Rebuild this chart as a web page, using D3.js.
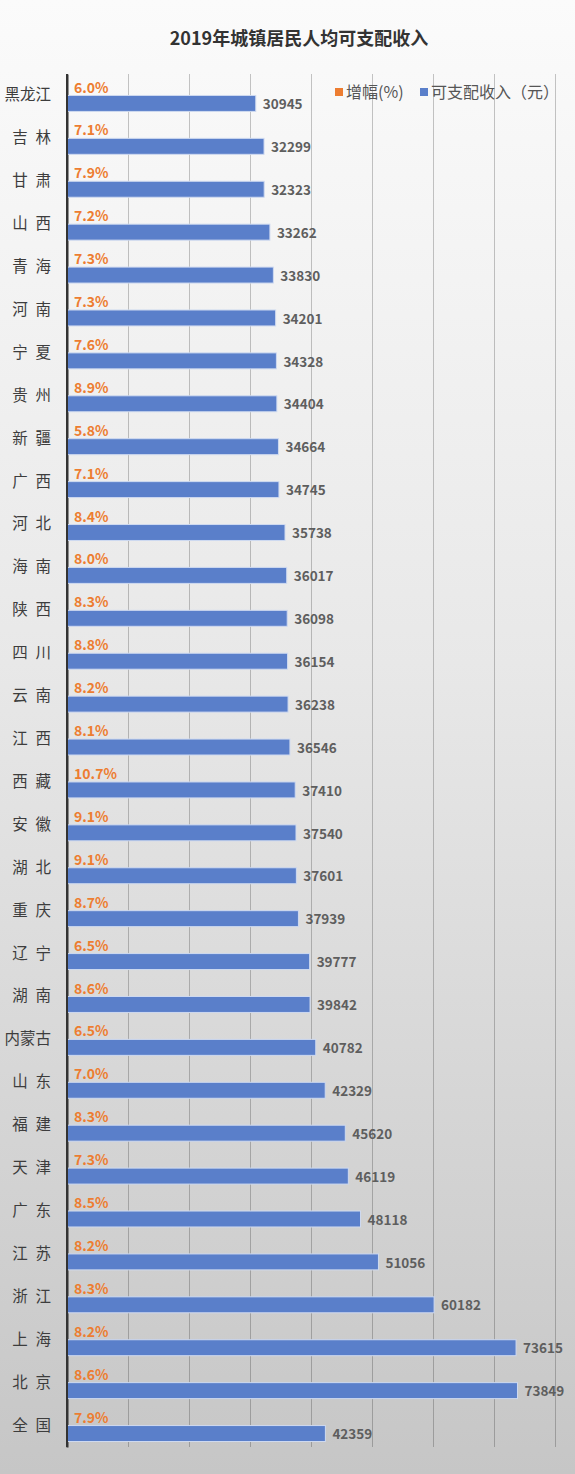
<!DOCTYPE html>
<html>
<head>
<meta charset="utf-8">
<script src="https://cdn.jsdelivr.net/npm/d3@7"></script>
<style>
  body { margin: 0; }
  svg { display: block; font-family: "Noto Sans CJK SC", "Noto Sans", sans-serif; }
</style>
</head>
<body>
<div id="chart"></div>
<script>
// chart data
const provinces = ["黑龙江", "吉林", "甘肃", "山西", "青海", "河南", "宁夏", "贵州", "新疆", "广西",
    "河北", "海南", "陕西", "四川", "云南", "江西", "西藏", "安徽", "湖北", "重庆",
    "辽宁", "湖南", "内蒙古", "山东", "福建", "天津", "广东", "江苏", "浙江", "上海", "北京", "全国"];
const income = [30945, 32299, 32323, 33262, 33830, 34201, 34328, 34404, 34664, 34745,
    35738, 36017, 36098, 36154, 36238, 36546, 37410, 37540, 37601, 37939,
    39777, 39842, 40782, 42329, 45620, 46119, 48118, 51056, 60182, 73615, 73849, 42359];
const growth = [6.0, 7.1, 7.9, 7.2, 7.3, 7.3, 7.6, 8.9, 5.8, 7.1,
    8.4, 8.0, 8.3, 8.8, 8.2, 8.1, 10.7, 9.1, 9.1, 8.7,
    6.5, 8.6, 6.5, 7.0, 8.3, 7.3, 8.5, 8.2, 8.3, 8.2, 8.6, 7.9];
const seriesNames = ["增幅(%)", "可支配收入（元）"];
const xTicks = [10000, 20000, 30000, 40000, 50000, 60000, 70000, 80000];

const W = 575, H = 1474;
const margin = {top: 74, right: 20, bottom: 27, left: 67},
    width = 555 - margin.left,
    height = H - margin.top - margin.bottom;

const root = d3.select("#chart")
    .append("svg")
    .attr("width", W)
    .attr("height", H);

// background gradient
const grad = root.append("defs").append("linearGradient")
    .attr("id", "bg")
    .attr("x1", 0).attr("y1", 0).attr("x2", 0).attr("y2", 1);
grad.append("stop").attr("offset", "0%").attr("stop-color", "#fbfbfb");
grad.append("stop").attr("offset", "45%").attr("stop-color", "#e8e8e8");
grad.append("stop").attr("offset", "100%").attr("stop-color", "#c6c6c6");
root.append("rect").attr("width", W).attr("height", H).attr("fill", "url(#bg)");

const svg = root.append("g")
    .attr("transform", "translate(" + margin.left + "," + margin.top + ")");

// scales
const x = d3.scaleLinear().domain([0, 80000]).range([0, width]);
const y = d3.scaleBand()
    .domain(provinces)
    .range([0, height])
    .paddingInner(0.256)
    .paddingOuter(0.128);
const ySub = d3.scaleBand()
    .domain(["growth", "income"])
    .range([0, y.bandwidth()]);

// gridlines
svg.append("g")
    .attr("transform", "translate(0," + height + ")")
    .call(d3.axisBottom(x).tickValues(xTicks).tickSize(-height).tickFormat(""))
    .call(g => g.select(".domain").remove())
    .call(g => g.selectAll(".tick line").attr("stroke", "rgba(0,0,0,0.22)").attr("stroke-width", 1));

// category axis
svg.append("g")
    .call(d3.axisLeft(y).tickSize(0).tickPadding(16)
        .tickFormat(d => d.length === 2 ? d[0] + "\u2002" + d[1] : d))
    .call(g => g.select(".domain").attr("stroke", "#333").attr("stroke-width", 2))
    .call(g => g.selectAll("text")
        .attr("font-size", 15.5)
        .attr("fill", "#3d3d3d")
        .style("font-family", "'Noto Sans CJK SC', sans-serif"));

const rows = provinces.map((p, i) => ({name: p, income: income[i], growth: growth[i]}));

// growth bars (tiny on this scale) and labels
svg.append("g").selectAll("rect")
    .data(rows)
    .enter().append("rect")
    .attr("x", 0)
    .attr("y", d => y(d.name) + ySub("growth"))
    .attr("width", d => x(d.growth))
    .attr("height", ySub.bandwidth())
    .attr("fill", "#ed7d31");

svg.append("g").selectAll("text")
    .data(rows)
    .enter().append("text")
    .attr("x", d => x(d.growth) + 7)
    .attr("y", d => y(d.name) + ySub("growth") + ySub.bandwidth() / 2)
    .attr("dy", "0.36em")
    .attr("font-size", 14)
    .attr("font-weight", "bold")
    .attr("fill", "#ed7d31")
    .text(d => d.growth.toFixed(1) + "%");

// income bars
svg.append("g").selectAll("rect")
    .data(rows)
    .enter().append("rect")
    .attr("x", 0)
    .attr("y", d => y(d.name) + ySub("income"))
    .attr("width", d => x(d.income))
    .attr("height", ySub.bandwidth())
    .attr("fill", "#5a7fca")
    .attr("stroke", "#cfdaf0")
    .attr("stroke-width", 1);

svg.append("g").selectAll("text")
    .data(rows)
    .enter().append("text")
    .attr("x", d => x(d.income) + 7)
    .attr("y", d => y(d.name) + ySub("income") + ySub.bandwidth() / 2)
    .attr("dy", "0.42em")
    .attr("font-size", 13.5)
    .attr("font-weight", "bold")
    .attr("fill", "#5e5e5e")
    .text(d => d.income);

// redraw axis line on top
svg.append("line")
    .attr("x1", 0).attr("x2", 0)
    .attr("y1", 0).attr("y2", height)
    .attr("stroke", "#333").attr("stroke-width", 2);

// title
root.append("text")
    .attr("x", 299)
    .attr("y", 45)
    .attr("text-anchor", "middle")
    .attr("font-size", 18)
    .attr("font-weight", "bold")
    .attr("fill", "#333")
    .text("2019年城镇居民人均可支配收入");

// legend
const legendX = [335, 420];
const legendColors = ["#ed7d31", "#5a7fca"];
const legend = root.append("g").selectAll("g")
    .data(seriesNames)
    .enter().append("g")
    .attr("transform", (d, i) => "translate(" + legendX[i] + ",92)");
legend.append("rect")
    .attr("x", 0).attr("y", -4)
    .attr("width", 8).attr("height", 8)
    .attr("fill", (d, i) => legendColors[i]);
legend.append("text")
    .attr("x", 11)
    .attr("dy", "0.36em")
    .attr("font-size", 16)
    .attr("fill", "#555")
    .text(d => d);
</script>
</body>
</html>
